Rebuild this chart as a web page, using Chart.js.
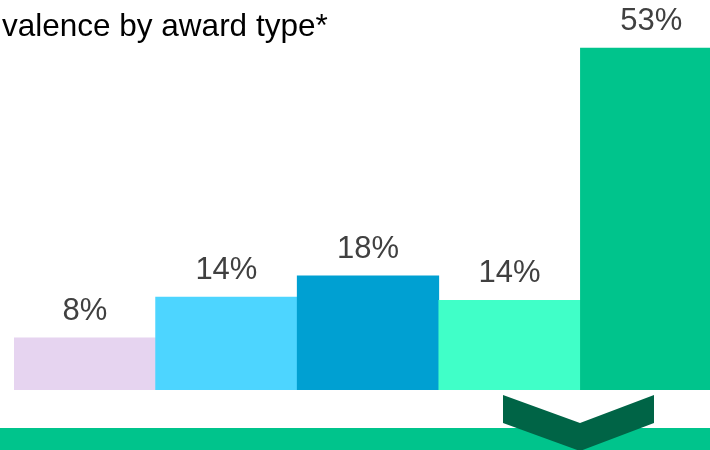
<!DOCTYPE html>
<html>
<head>
<meta charset="utf-8">
<script src="https://cdn.jsdelivr.net/npm/chart.js@4"></script>
<style>
  html, body { margin: 0; padding: 0; background: #fff; overflow: hidden; }
  #wrap { position: relative; width: 710px; height: 450px; overflow: hidden; }
  #wrap canvas { position: absolute; left: 0; top: 0; }
  #title {
    position: absolute; left: 2px; top: 7px;
    font: 31.5px "Liberation Sans", Arial, sans-serif; color: #000;
    line-height: 36px; white-space: nowrap;
  }
</style>
</head>
<body>
<div id="wrap">
  <canvas id="chart" width="722" height="450"></canvas>
  <div id="title">valence by award type*</div>
</div>
<script>
// ── Award type prevalence ──
const categories = ['Type A', 'Type B', 'Type C', 'Type D', 'Type E'];
const prevalence = [8.1, 14.4, 17.7, 13.9, 53];
const barColors = ['#E6D4F0', '#4DD5FF', '#00A0D2', '#40FFC8', '#00C48C'];

// value labels above each bar
const barLabels = {
  id: 'barLabels',
  afterDatasetsDraw(chart) {
    const ctx = chart.ctx;
    const meta = chart.getDatasetMeta(0);
    ctx.save();
    ctx.font = '31px "Liberation Sans", Arial, sans-serif';
    ctx.fillStyle = '#404040';
    ctx.textAlign = 'center';
    ctx.textBaseline = 'alphabetic';
    meta.data.forEach((bar, i) => {
      ctx.fillText(Math.round(prevalence[i]) + '%', bar.x, bar.y - 18);
    });
    ctx.restore();
  }
};

// green band + chevron under the last bar
const footer = {
  id: 'footer',
  afterDraw(chart) {
    const ctx = chart.ctx;
    const w = chart.width;
    ctx.save();
    ctx.fillStyle = '#00C48C';
    ctx.fillRect(0, 428, w, 22);
    ctx.fillStyle = '#006446';
    ctx.beginPath();
    ctx.moveTo(503, 395);
    ctx.lineTo(580, 423);
    ctx.lineTo(654, 395);
    ctx.lineTo(654, 423);
    ctx.lineTo(580, 451);
    ctx.lineTo(503, 423);
    ctx.closePath();
    ctx.fill();
    ctx.restore();
  }
};

new Chart(document.getElementById('chart'), {
  type: 'bar',
  data: {
    labels: categories,
    datasets: [{
      data: prevalence,
      backgroundColor: barColors,
      borderWidth: 0,
      categoryPercentage: 1,
      barPercentage: 1
    }]
  },
  options: {
    responsive: false,
    animation: false,
    layout: { padding: { left: 14, right: 0, top: 2.8, bottom: 60 } },
    plugins: { legend: { display: false }, tooltip: { enabled: false } },
    scales: {
      x: { display: false },
      y: { display: false, min: 0, max: 60 }
    }
  },
  plugins: [barLabels, footer]
});
</script>
</body>
</html>
